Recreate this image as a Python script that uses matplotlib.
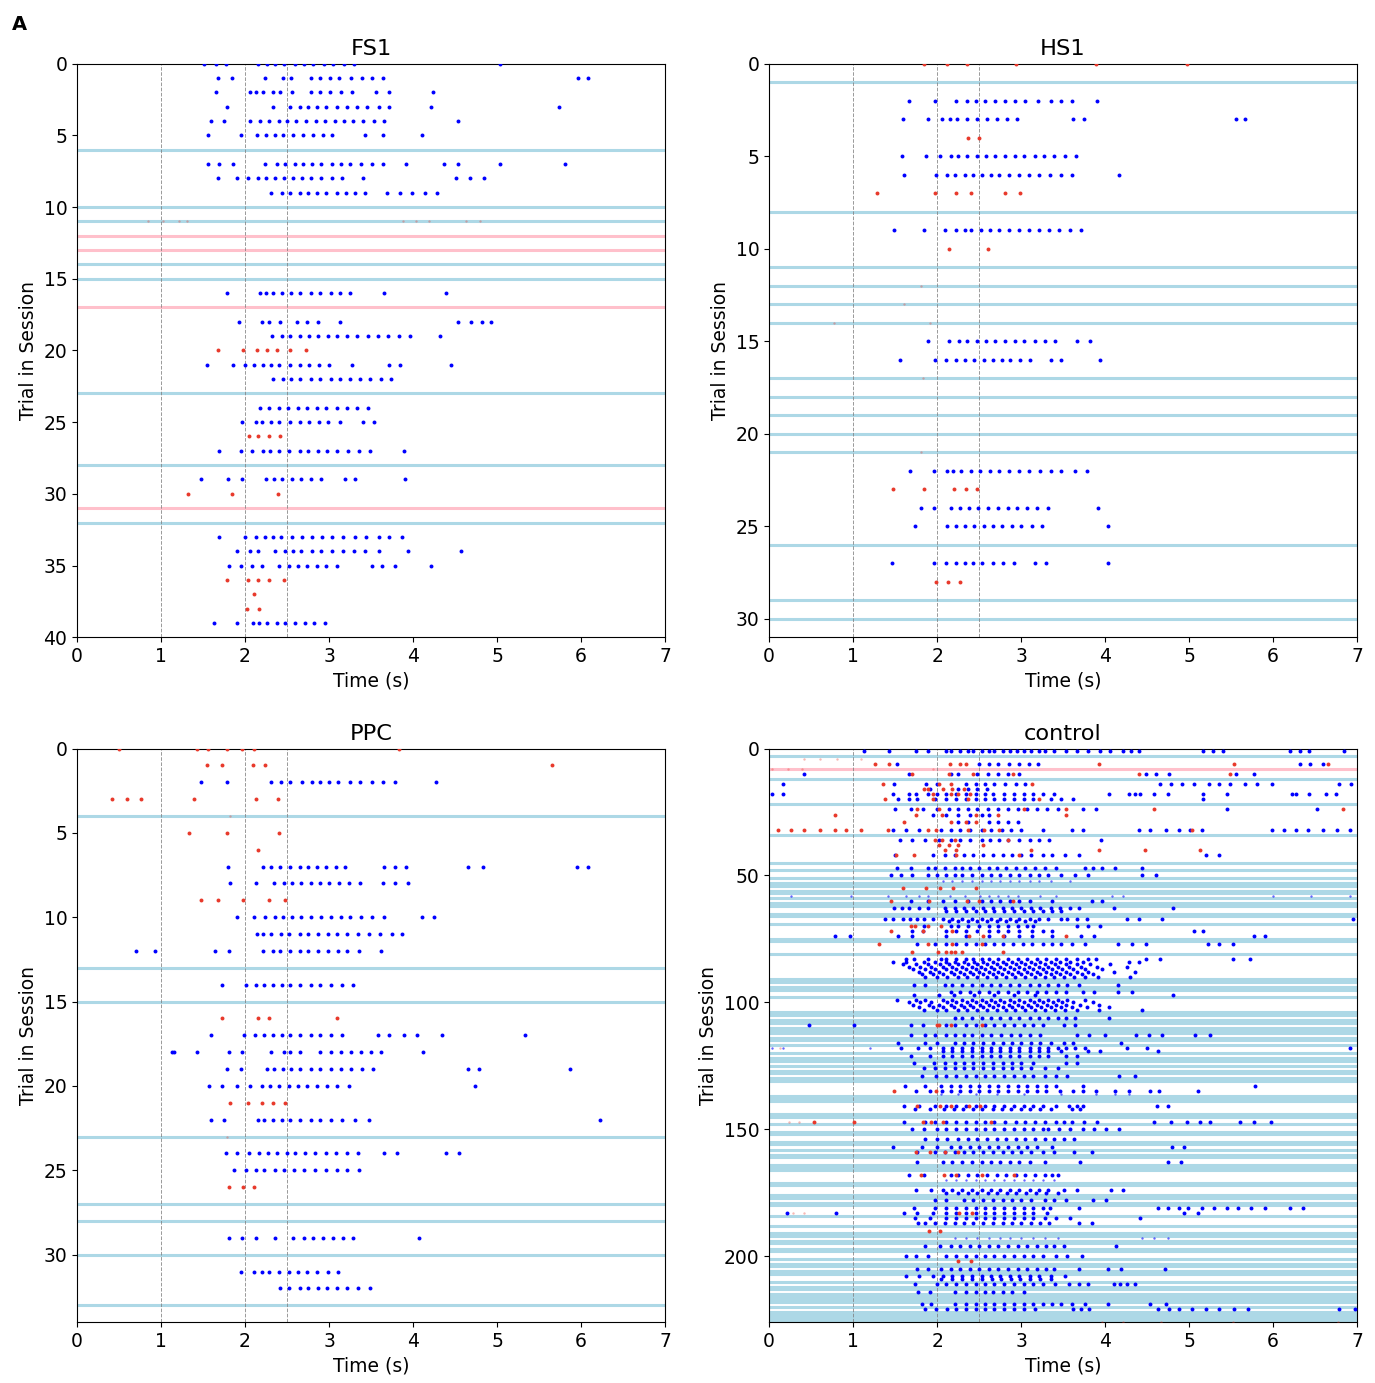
import matplotlib.pyplot as plt
import numpy as np

plt.rcParams['font.size'] = 13.5

# ---- FS1 ----
fs1_trials = 40
fs1_blue = {
    0: [1.51, 1.65, 1.77, 2.15, 2.26, 2.36, 2.46, 2.59, 2.70, 2.81, 2.94, 3.05, 3.18, 3.30, 5.03],
    1: [1.68, 1.85, 2.24, 2.45, 2.55, 2.78, 2.89, 3.01, 3.12, 3.26, 3.39, 3.51, 3.64, 5.97, 6.08],
    2: [1.66, 2.06, 2.13, 2.21, 2.33, 2.42, 2.56, 2.78, 2.89, 3.01, 3.14, 3.27, 3.56, 3.72, 4.24],
    3: [1.78, 2.33, 2.54, 2.65, 2.75, 2.86, 2.97, 3.09, 3.21, 3.33, 3.45, 3.59, 3.72, 4.22, 5.74],
    4: [1.60, 1.75, 2.06, 2.18, 2.29, 2.40, 2.50, 2.61, 2.73, 2.84, 2.95, 3.07, 3.18, 3.28, 3.41, 3.53, 3.66, 4.54],
    5: [1.56, 1.95, 2.14, 2.25, 2.36, 2.45, 2.57, 2.69, 2.81, 2.93, 3.04, 3.43, 3.64, 4.11],
    7: [1.56, 1.69, 1.86, 2.24, 2.38, 2.48, 2.59, 2.69, 2.80, 2.91, 3.03, 3.14, 3.25, 3.38, 3.51, 3.64, 3.92, 4.37, 4.53, 5.03, 5.81],
    8: [1.68, 1.90, 2.03, 2.15, 2.25, 2.36, 2.46, 2.57, 2.68, 2.79, 2.91, 3.03, 3.15, 3.41, 4.51, 4.68, 4.84],
    9: [2.31, 2.44, 2.54, 2.65, 2.75, 2.86, 2.97, 3.09, 3.20, 3.31, 3.43, 3.69, 3.84, 3.99, 4.14, 4.29],
    16: [1.78, 2.18, 2.25, 2.33, 2.44, 2.55, 2.66, 2.78, 2.89, 3.02, 3.13, 3.25, 3.66, 4.39],
    18: [1.93, 2.20, 2.29, 2.42, 2.62, 2.74, 2.87, 3.13, 4.54, 4.69, 4.82, 4.93],
    19: [2.32, 2.44, 2.54, 2.65, 2.76, 2.87, 2.99, 3.09, 3.21, 3.33, 3.46, 3.58, 3.70, 3.83, 3.97, 4.32],
    21: [1.55, 1.86, 2.00, 2.11, 2.21, 2.31, 2.41, 2.54, 2.65, 2.76, 2.88, 3.00, 3.27, 3.71, 3.84, 4.45],
    22: [2.33, 2.45, 2.55, 2.66, 2.78, 2.89, 3.02, 3.13, 3.25, 3.37, 3.49, 3.62, 3.74],
    24: [2.18, 2.29, 2.40, 2.51, 2.63, 2.74, 2.86, 2.97, 3.09, 3.21, 3.33, 3.46],
    25: [1.97, 2.13, 2.20, 2.31, 2.41, 2.53, 2.65, 2.76, 2.88, 2.99, 3.13, 3.40, 3.54],
    27: [1.69, 1.95, 2.08, 2.21, 2.30, 2.41, 2.52, 2.65, 2.75, 2.87, 2.98, 3.10, 3.23, 3.36, 3.49, 3.89],
    29: [1.48, 1.80, 1.96, 2.25, 2.34, 2.44, 2.56, 2.67, 2.79, 2.91, 3.19, 3.31, 3.91],
    33: [1.69, 2.00, 2.13, 2.24, 2.33, 2.43, 2.56, 2.68, 2.80, 2.92, 3.04, 3.17, 3.31, 3.44, 3.59, 3.72, 3.87],
    34: [1.90, 2.06, 2.15, 2.36, 2.48, 2.57, 2.67, 2.80, 2.91, 3.04, 3.17, 3.30, 3.43, 3.59, 3.94, 4.57],
    35: [1.81, 1.95, 2.08, 2.20, 2.40, 2.52, 2.63, 2.74, 2.86, 2.96, 3.09, 3.51, 3.63, 3.78, 4.22],
    39: [1.63, 1.91, 2.10, 2.17, 2.26, 2.38, 2.48, 2.60, 2.71, 2.82, 2.95],
}
fs1_red = {
    20: [1.68, 1.98, 2.14, 2.26, 2.38, 2.53, 2.73],
    26: [2.05, 2.16, 2.29, 2.42],
    30: [1.32, 1.85, 2.39],
    36: [1.78, 2.03, 2.15, 2.29, 2.46],
    37: [2.11],
    38: [2.02, 2.17],
}
fs1_faint = {11: [0.84, 1.02, 1.21, 1.31, 3.88, 4.04, 4.19, 4.63, 4.80]}
fs1_lines = [6, 10, 11, 14, 15, 23, 28, 32]
fs1_pink = [12, 13, 17, 31]

# ---- HS1 ----
hs1_trials = 31
hs1_blue = {
    2: [1.66, 1.97, 2.22, 2.36, 2.46, 2.57, 2.69, 2.81, 2.93, 3.05, 3.20, 3.36, 3.47, 3.60, 3.90],
    3: [1.59, 1.89, 2.06, 2.15, 2.24, 2.36, 2.47, 2.59, 2.71, 2.83, 2.95, 3.62, 3.75, 5.56, 5.67],
    5: [1.58, 1.87, 2.04, 2.16, 2.25, 2.36, 2.47, 2.58, 2.69, 2.81, 2.93, 3.04, 3.16, 3.27, 3.39, 3.52, 3.65],
    6: [1.61, 1.99, 2.12, 2.21, 2.33, 2.43, 2.54, 2.64, 2.74, 2.86, 2.98, 3.09, 3.21, 3.34, 3.47, 3.61, 4.17],
    9: [1.49, 1.84, 2.09, 2.22, 2.33, 2.40, 2.52, 2.63, 2.74, 2.86, 2.97, 3.09, 3.21, 3.33, 3.45, 3.58, 3.71],
    15: [1.89, 2.14, 2.26, 2.36, 2.47, 2.58, 2.69, 2.81, 2.93, 3.04, 3.16, 3.28, 3.40, 3.67, 3.82],
    16: [1.56, 1.98, 2.11, 2.22, 2.33, 2.44, 2.56, 2.66, 2.77, 2.87, 2.99, 3.11, 3.35, 3.48, 3.94],
    22: [1.68, 1.96, 2.12, 2.19, 2.29, 2.40, 2.51, 2.63, 2.74, 2.86, 2.97, 3.09, 3.22, 3.36, 3.48, 3.64, 3.78],
    24: [1.81, 1.96, 2.17, 2.27, 2.38, 2.49, 2.61, 2.72, 2.84, 2.95, 3.07, 3.19, 3.32, 3.91],
    25: [1.74, 2.12, 2.22, 2.33, 2.44, 2.56, 2.66, 2.77, 2.89, 3.00, 3.13, 3.25, 4.04],
    27: [1.46, 1.96, 2.11, 2.23, 2.33, 2.43, 2.54, 2.66, 2.78, 2.91, 3.17, 3.30, 4.04],
}
hs1_red = {
    0: [1.84, 2.12, 2.35, 2.94, 3.89, 4.97],
    4: [2.37, 2.50],
    7: [1.29, 1.98, 2.22, 2.40, 2.81, 2.99],
    10: [2.14, 2.61],
    23: [1.47, 1.84, 2.20, 2.34, 2.47],
    28: [1.99, 2.13, 2.27],
}
hs1_faint = {12: [1.81], 13: [1.60], 14: [0.77, 1.92], 17: [1.83], 21: [1.81]}
hs1_lines = [1, 8, 11, 12, 13, 14, 17, 18, 19, 20, 21, 26, 29, 30]
hs1_pink = []

# ---- PPC ----
ppc_trials = 34
ppc_blue = {
    2: [1.48, 1.78, 2.31, 2.43, 2.54, 2.68, 2.80, 2.89, 3.00, 3.11, 3.25, 3.37, 3.51, 3.64, 3.79, 4.27],
    7: [1.80, 2.21, 2.31, 2.42, 2.53, 2.65, 2.75, 2.86, 2.97, 3.08, 3.19, 3.65, 3.79, 3.92, 4.66, 4.83, 5.95, 6.08],
    8: [1.82, 2.13, 2.34, 2.46, 2.56, 2.67, 2.78, 2.89, 3.00, 3.12, 3.24, 3.37, 3.64, 3.79, 3.94],
    10: [1.90, 2.11, 2.24, 2.36, 2.45, 2.56, 2.67, 2.79, 2.90, 3.02, 3.14, 3.25, 3.38, 3.51, 3.65, 4.11, 4.25],
    11: [2.14, 2.22, 2.31, 2.43, 2.52, 2.65, 2.75, 2.87, 2.99, 3.09, 3.22, 3.35, 3.48, 3.61, 3.75, 3.87],
    12: [0.70, 0.93, 1.64, 1.81, 2.22, 2.33, 2.42, 2.53, 2.65, 2.75, 2.87, 2.99, 3.11, 3.22, 3.36, 3.62],
    14: [1.73, 2.01, 2.13, 2.23, 2.33, 2.44, 2.54, 2.66, 2.78, 2.89, 3.02, 3.15, 3.29],
    17: [1.60, 1.99, 2.12, 2.23, 2.33, 2.44, 2.54, 2.66, 2.78, 2.89, 3.02, 3.16, 3.58, 3.72, 3.89, 4.05, 4.34, 5.33],
    18: [1.13, 1.16, 1.43, 1.81, 1.96, 2.31, 2.46, 2.54, 2.66, 2.89, 3.02, 3.14, 3.26, 3.38, 3.50, 3.62, 4.12],
    19: [1.78, 1.95, 2.26, 2.35, 2.45, 2.55, 2.66, 2.78, 2.89, 3.02, 3.14, 3.26, 3.39, 3.52, 4.66, 4.79, 5.87],
    20: [1.57, 1.73, 1.91, 2.06, 2.20, 2.30, 2.41, 2.52, 2.63, 2.74, 2.86, 2.98, 3.09, 3.24, 4.74],
    22: [1.60, 1.75, 2.15, 2.23, 2.33, 2.44, 2.54, 2.66, 2.78, 2.89, 3.02, 3.16, 3.31, 3.48, 6.23],
    24: [1.77, 1.91, 2.05, 2.17, 2.27, 2.38, 2.50, 2.60, 2.71, 2.83, 2.96, 3.08, 3.21, 3.34, 3.65, 3.81, 4.39, 4.55],
    25: [1.87, 2.01, 2.13, 2.23, 2.36, 2.46, 2.58, 2.70, 2.83, 2.96, 3.09, 3.22, 3.36],
    29: [1.81, 1.96, 2.13, 2.36, 2.57, 2.70, 2.81, 2.93, 3.05, 3.17, 3.29, 4.07],
    31: [1.95, 2.11, 2.20, 2.29, 2.40, 2.52, 2.63, 2.74, 2.86, 2.99, 3.11],
    32: [2.42, 2.52, 2.65, 2.75, 2.87, 2.98, 3.10, 3.22, 3.35, 3.49],
}
ppc_red = {
    0: [0.50, 1.43, 1.56, 1.78, 1.96, 2.11, 3.83],
    1: [1.55, 1.73, 2.09, 2.24, 5.65],
    3: [0.42, 0.59, 0.76, 1.39, 2.13, 2.39],
    5: [1.33, 1.79, 2.41],
    6: [2.16],
    9: [1.48, 1.68, 1.98, 2.28, 2.48],
    16: [1.73, 2.16, 2.29, 3.09],
    21: [1.82, 2.04, 2.20, 2.33, 2.48],
    26: [1.81, 1.98, 2.11],
}
ppc_faint = {4: [1.82], 23: [1.79]}
ppc_lines = [4, 13, 15, 23, 27, 28, 30, 33]
ppc_pink = []

# ---- control (lick times as space separated strings, seconds) ----
ctrl_trials = 226
ctrl_blue_txt = {
    1: "1.13 1.43 1.75 1.89 2.11 2.16 2.27 2.37 2.43 2.53 2.62 2.68 2.78 2.87 2.95 3.03 3.12 3.21 3.29 3.39 3.53 3.67 3.80 3.94 4.06 4.21 4.31 4.40 5.17 5.29 5.40 6.20 6.32 6.43 6.84",
    6: "1.52 2.50 2.62 2.73 2.85 2.97 3.09 3.20 6.32 6.44 6.59",
    10: "0.42 1.67 2.16 2.25 2.48 2.61 2.72 2.84 2.97 4.49 4.60 4.76 5.56 5.77",
    14: "0.16 1.49 1.87 2.00 2.34 2.46 2.57 2.68 2.81 2.94 3.05 4.65 4.79 4.92 5.06 5.24 5.36 5.49 5.67 5.81 5.99 6.79 6.93",
    16: "1.91 2.25 2.37 2.48 2.59",
    18: "0.04 0.16 1.47 1.66 1.75 1.89 2.00 2.11 2.23 2.34 2.46 2.57 2.67 2.80 2.91 3.03 3.14 3.26 3.39 4.05 4.28 4.35 4.42 4.58 4.75 5.16 5.45 6.22 6.27 6.43 6.63 6.75",
    20: "1.54 1.66 1.76 1.98 2.11 2.23 2.34 2.46 2.57 2.68 2.80 2.91 3.03 3.14 3.35 3.48 3.62 5.16",
    24: "1.50 1.69 1.83 2.00 2.14 2.25 2.37 2.48 2.61 2.72 2.84 2.96 3.07 3.19 3.31 3.44 3.74 3.89 5.45 6.52",
    26: "1.95 2.11 2.25 2.39 2.53 2.62",
    29: "2.25 2.37 2.62 2.73 2.84 2.96",
    32: "1.47 1.63 1.79 2.05 2.16 2.27 2.39 2.53 2.64 2.77 2.88 3.00 3.26 3.60 3.74 4.40 4.54 4.72 4.88 5.01 5.15 5.99 6.13 6.27 6.42 6.59 6.76 6.91",
    36: "1.56 1.70 1.85 2.02 2.16 2.27 2.39 2.53 2.63 2.74 2.84 2.97 3.10 3.21 3.33 3.95",
    42: "1.50 1.95 2.09 2.21 2.32 2.43 2.55 2.66 2.78 2.89 3.00 3.12 3.26 3.37 3.52 3.69 5.20 5.36",
    47: "1.52 1.69 1.89 1.98 2.09 2.21 2.30 2.39 2.50 2.62 2.71 2.82 2.94 3.05 3.16 3.28 3.42 3.76 3.85 3.96 4.12 4.44",
    50: "1.45 1.57 1.70 1.89 2.00 2.11 2.21 2.30 2.41 2.53 2.64 2.75 2.87 2.98 3.10 3.21 3.32 3.48 3.64 3.80 4.44 4.60",
    60: "1.69 1.89 2.07 2.21 2.37 2.53 2.64 2.75 2.87 2.98 3.11 3.37 3.84 3.96",
    63: "1.49 1.58 1.66 1.79 1.89 2.09 2.21 2.32 2.43 2.55 2.66 2.78 2.89 3.00 3.12 3.23 3.35 3.46 3.58 3.69 4.10 4.81",
    64: "2.11 2.23 2.34 2.46 2.57 2.68 2.80 2.91 3.03 3.14 3.26 3.37 3.48",
    67: "1.38 1.47 1.59 1.68 1.76 1.84 1.95 2.07 2.18 2.30 2.41 2.53 2.64 2.75 2.87 2.98 3.10 3.21 3.32 3.48 3.55 3.66 3.78 4.26 4.40 4.68 6.95",
    68: "2.14 2.25 2.37 2.48 2.59 2.71 2.82 2.94 3.05 3.16",
    70: "1.84 2.16 2.25 2.37 2.50 2.62 2.73 2.84 2.96 3.07 3.14 3.67 3.80 3.94",
    72: "1.70 1.83 2.11 2.23 2.34 2.48 2.62 2.73 2.84 2.98 3.13 3.26 3.37 5.06 5.17",
    74: "0.78 0.96 1.54 1.70 2.11 2.34 2.62 2.80 2.98 3.13 3.37 3.71 3.87 5.77 5.90",
    77: "1.76 1.98 2.11 2.23 2.34 2.46 2.57 2.68 2.79 2.90 3.02 3.13 3.26 3.37 3.48 3.61 3.76 4.15 4.32 4.49 5.22 5.36 5.52",
    83: "1.63 1.73 1.89 2.05 2.11 2.23 2.34 2.43 2.53 2.62 2.73 2.84 2.96 3.07 3.19 3.30 3.42 3.53 3.67 3.80 3.89 4.49 4.65 5.52 5.72",
    84: "1.47 1.63 1.84 1.98 2.10 2.21 2.32 2.44 2.55 2.66 2.78 2.89 3.00 3.12 3.23 3.35 3.46 3.58 3.74 4.28 4.40",
    85: "1.59 1.75 1.89 2.03 2.14 2.25 2.37 2.48 2.59 2.71 2.82 2.94 3.05 3.17 3.28 3.40 3.53 3.66 3.82 4.06",
    86: "1.66 1.80 1.93 2.07 2.18 2.30 2.41 2.52 2.64 2.75 2.87 2.98 3.09 3.21 3.32 3.44 3.57 3.71 3.90 4.26",
    87: "1.71 1.86 1.98 2.11 2.23 2.34 2.46 2.57 2.68 2.80 2.91 3.03 3.14 3.26 3.37 3.49 3.62 3.76 3.96",
    88: "1.78 1.91 2.02 2.16 2.27 2.39 2.50 2.62 2.73 2.84 2.96 3.07 3.19 3.30 3.42 3.53 3.67 3.80 4.10 4.35",
    89: "1.82 1.95 2.07 2.20 2.32 2.43 2.55 2.66 2.77 2.89 3.00 3.12 3.23 3.35 3.46 3.58 3.72 3.85",
    90: "1.86 2.00 2.12 2.25 2.36 2.48 2.59 2.70 2.82 2.93 3.05 3.16 3.28 3.39 3.51 3.63 3.76 3.92 4.30",
    93: "1.73 1.86 2.09 2.18 2.30 2.41 2.53 2.64 2.75 2.87 2.98 3.10 3.21 3.32 3.44 3.55 3.69 4.15",
    96: "2.16 2.27 2.39 2.50 2.62 2.73 2.84 2.96 3.07 3.19 3.30 3.42 3.53 3.74 3.87 4.15 4.32",
    97: "1.73 2.02 2.20 2.44 2.68 2.92 3.16 4.81",
    99: "1.52 1.75 1.86 2.07 2.18 2.30 2.41 2.53 2.64 2.75 2.87 2.98 3.10 3.21 3.32 3.44 3.55 3.76",
    100: "1.66 1.80 1.93 2.12 2.23 2.35 2.46 2.58 2.69 2.80 2.92 3.03 3.15 3.26 3.38 3.49 3.62 3.85",
    101: "1.71 1.90 2.02 2.16 2.28 2.39 2.51 2.62 2.73 2.85 2.96 3.08 3.19 3.31 3.42 3.54 3.70 3.93",
    102: "1.79 1.95 2.07 2.20 2.32 2.43 2.55 2.66 2.78 2.89 3.01 3.12 3.24 3.35 3.47 3.60 3.78 4.05",
    103: "1.84 2.00 2.11 2.25 2.36 2.48 2.59 2.71 2.82 2.93 3.05 3.16 3.28 3.40 3.52 3.66 3.93 4.44",
    106: "2.21 2.30 2.41 2.53 2.64 2.75 2.87 2.98 3.10 3.21 3.32 3.44 3.53 3.64 4.05",
    109: "0.47 1.01 1.69 1.83 2.11 2.21 2.34 2.46 2.57 2.68 2.80 2.91 3.03 3.14 3.26 3.51 3.64",
    113: "1.69 1.85 1.98 2.11 2.21 2.32 2.42 2.53 2.64 2.76 2.88 2.99 3.10 3.23 3.67 3.81 4.00 4.37 4.52 4.68 5.07 5.25",
    116: "1.54 1.85 2.00 2.21 2.32 2.43 2.55 2.66 2.78 2.89 3.00 3.12 3.23 3.35 3.51 3.62 4.19",
    118: "1.57 1.77 1.91 2.07 2.18 2.30 2.41 2.53 2.64 2.75 2.87 2.98 3.10 3.21 3.32 3.44 3.53 3.64 3.76 4.26 4.50 6.91",
    119: "2.07 2.18 2.30 2.41 2.53 2.64 2.75 2.87 2.98 3.10 3.21 3.32 3.48 3.80 3.94 4.63",
    121: "1.69 1.92 2.07 2.18 2.30 2.41 2.53 2.64 2.75 2.87 2.98 3.10 3.21 3.32 3.53 3.66",
    124: "1.73 1.96 2.09 2.21 2.32 2.43 2.55 2.66 2.78 2.89 3.00 3.14 3.53 3.66",
    126: "1.84 1.98 2.09 2.21 2.32 2.43 2.55 2.66 2.78 2.89 3.00 3.12 3.28 3.44",
    129: "1.82 1.99 2.11 2.23 2.34 2.46 2.57 2.68 2.80 2.91 3.03 3.14 3.28 3.42 3.55 4.17 4.35",
    133: "1.62 1.86 2.05 2.16 2.27 2.39 2.50 2.62 2.73 2.84 2.96 3.07 3.19 3.30 3.42 3.74 5.79",
    135: "1.75 1.91 2.06 2.16 2.27 2.39 2.50 2.62 2.73 2.84 2.96 3.07 3.19 3.30 3.46 3.62 3.74 3.89 4.12 4.28 4.53 4.64 5.11",
    141: "1.61 1.79 1.97 2.11 2.23 2.34 2.46 2.57 2.68 2.80 2.91 3.03 3.14 3.26 3.42 3.57 3.66 3.74 4.62 4.75",
    142: "1.74 1.92 2.08 2.20 2.31 2.43 2.54 2.66 2.77 2.88 3.00 3.11 3.23 3.35 3.60 3.70",
    147: "1.60 1.85 1.98 2.11 2.23 2.34 2.46 2.57 2.68 2.81 2.94 3.05 3.16 3.29 3.42 3.51 3.60 3.75 3.90 4.58 4.79 4.97 5.13 5.25 5.60 5.77 5.97",
    150: "1.70 1.84 2.00 2.11 2.23 2.34 2.46 2.57 2.68 2.80 2.91 3.03 3.14 3.26 3.32 3.45 3.58 3.74 3.87 4.01 4.17",
    154: "1.85 2.00 2.12 2.25 2.37 2.48 2.59 2.71 2.82 2.94 3.05 3.16 3.28 3.39 3.51 3.63",
    157: "1.47 1.82 2.00 2.16 2.27 2.39 2.50 2.62 2.73 2.84 2.96 3.07 3.19 3.37 4.80 4.94",
    159: "1.76 1.98 2.09 2.21 2.32 2.43 2.55 2.66 2.78 2.89 3.00 3.12 3.26 3.39 3.63 3.84",
    163: "1.76 2.07 2.18 2.30 2.41 2.53 2.64 2.75 2.87 2.98 3.10 3.28 3.70 4.75 4.90",
    168: "1.67 1.84 2.16 2.25 2.37 2.48 2.59 2.71 2.82 2.94 3.05 3.16 3.28 3.37 3.44",
    174: "1.75 1.93 2.07 2.18 2.30 2.41 2.53 2.64 2.75 2.87 2.98 3.10 3.21 3.32 3.51 3.67 4.07 4.21",
    175: "2.11 2.25 2.37 2.48 2.60 2.71 2.83 2.94 3.06 3.18 3.30 3.44",
    178: "1.98 2.11 2.32 2.43 2.55 2.66 2.78 2.89 3.00 3.12 3.28 3.39 3.53 3.85 4.01",
    181: "1.73 1.98 2.11 2.23 2.34 2.46 2.57 2.68 2.80 2.91 3.03 3.14 3.26 3.34 3.69 4.63 4.75 4.88 4.99 5.15 5.30 5.45 5.58 5.74 5.90 6.20 6.36",
    183: "0.21 0.80 1.60 1.76 1.95 2.11 2.23 2.34 2.46 2.57 2.68 2.80 2.91 3.03 3.14 3.31 4.94 5.10",
    185: "1.74 1.92 2.11 2.23 2.34 2.46 2.57 2.68 2.80 2.91 3.03 3.14 3.28 3.42 3.58 4.42",
    187: "1.77 1.86 1.98 2.09 2.21 2.32 2.43 2.55 2.66 2.78 2.89 3.00 3.12 3.23 3.33 3.69 3.84",
    196: "1.86 2.03 2.16 2.27 2.39 2.50 2.62 2.73 2.84 2.96 3.07 3.19 3.30 3.39 3.51 4.13",
    200: "1.63 1.75 1.89 2.11 2.23 2.34 2.46 2.57 2.68 2.80 2.91 3.03 3.14 3.26 3.42 3.55 3.72",
    205: "1.76 1.89 2.05 2.16 2.27 2.39 2.50 2.62 2.73 2.84 2.96 3.07 3.19 3.30 3.39 3.69 4.04 4.19 4.71",
    208: "1.63 1.79 1.95 2.07 2.18 2.30 2.41 2.53 2.64 2.75 2.87 2.98 3.10 3.21 3.35 3.52",
    209: "2.05 2.18 2.30 2.42 2.53 2.65 2.76 2.88 2.99 3.11 3.22 3.36",
    211: "1.74 2.00 2.11 2.23 2.34 2.46 2.57 2.68 2.80 2.91 3.03 3.14 3.26 3.40 3.57 3.69 3.80 4.10 4.18 4.26 4.35",
    214: "1.77 1.91 2.21 2.34 2.46 2.57 2.67 2.78 2.89 3.03",
    219: "1.82 1.93 2.21 2.34 2.46 2.57 2.68 2.80 2.91 3.03 3.14 3.26 3.37 3.48 3.61 3.76 4.03 4.53 4.73",
    221: "1.85 1.99 2.12 2.23 2.34 2.46 2.57 2.68 2.80 2.91 3.03 3.16 3.62 3.71 3.81 4.63 4.76 4.88 5.04 5.20 5.36 5.53 5.70 6.79 6.98",
}
ctrl_red_txt = {
    6: "1.26 1.43 2.15 2.27 2.34 3.93 5.53 6.65",
    10: "1.70 2.14 2.43 2.90 4.40 5.49",
    14: "1.36 2.02 2.16 3.13",
    16: "1.84 1.89 2.07 2.18 2.32",
    18: "1.95 2.16 2.25 2.39",
    20: "1.38 1.95 2.37 3.21",
    24: "1.76 2.02 3.03 3.53 4.58 6.83",
    26: "0.78 1.75 2.06 2.46 2.72 3.53",
    29: "1.61 2.16 2.34 2.46",
    32: "0.11 0.26 0.41 0.61 0.78 0.91 1.09 1.41 1.89 1.99 2.37 2.56 2.74 5.04",
    36: "1.97 2.06 2.21 2.84",
    38: "2.02 2.14 2.25 2.55",
    40: "2.09 2.23 3.12 3.93 4.48 5.13",
    42: "1.51 1.73 2.23 2.98",
    55: "1.59 1.87 2.04 2.19 2.46",
    60: "1.45 1.90 2.36 2.50 2.90",
    70: "1.69 1.74 1.89 2.05",
    72: "1.45 1.83 2.18",
    74: "2.38 2.55 2.79 3.53",
    77: "1.31 1.89 2.18 2.53",
    80: "1.70 2.01 2.11 2.16 2.21 2.30 2.79",
    109: "2.00 2.02 2.16 2.53",
    135: "1.49 1.99",
    141: "1.76 2.03 2.16 2.38 2.51",
    147: "0.54 1.01 1.83 1.93 2.07 2.64",
    159: "1.75 1.92 2.09 2.25",
    168: "1.81 2.08 2.23 2.54 2.92",
    183: "2.26 2.42",
    190: "1.90 2.04",
    202: "2.25 2.40",
}
ctrl_small_blue_txt = {
    52: "2.07 2.18 2.30 2.41 2.53 2.64 2.75 2.87 2.98 3.10 3.21 3.35 3.58",
    58: "0.26 0.97 1.41 1.63 1.79 1.89 2.15 2.33 2.51 2.62 2.73 2.84 2.96 3.23 3.42 4.08 4.21 6.00 6.45 6.91",
    118: "0.04 0.17 1.20",
    136: "2.05 2.25 2.46 2.71 3.03 3.48 3.89 4.12 4.28",
    170: "2.11 2.23 2.34 2.46 2.57 2.68 2.80 2.91 3.03 3.14 3.26 3.39",
    193: "2.21 2.34 2.48 2.62 2.75 2.87 3.00 3.14 3.28 3.44 4.44 4.58 4.75",
}
ctrl_faint_txt = {
    4: "0.42 0.61 0.81 1.09",
    8: "0.04 0.22 0.39 1.95",
    118: "0.13",
    147: "0.24 0.36",
    183: "0.28 0.42",
    226: "3.96 4.21 4.66 5.52 6.77",
}
ctrl_lines = [3, 12, 22, 34, 45, 48, 51, 53, 54, 56, 57, 59, 61, 62, 65, 66, 69, 75, 76,
              81, 91, 92, 94, 95, 98, 104, 105, 107, 108, 110, 111, 112, 114, 115, 117,
              120, 122, 123, 125, 127, 128, 130, 131, 137, 138, 139, 144, 145, 148, 151,
              152, 155, 156, 158, 160, 161, 164, 165, 166, 171, 172, 176, 177, 179, 180,
              184, 188, 191, 192, 194, 195, 197, 198, 201, 203, 204, 206, 207, 210, 212,
              213, 215, 216, 217, 218, 220, 222, 223, 224, 225]
ctrl_pink = [8]

RED = '#e8392b'


def parse(d):
    return {k: [float(v) for v in s.split()] for k, s in d.items()}


def raster(ax, title, n_trials, blue, red, lines, pink, faint=None, small_blue=None):
    for t in lines:
        ax.axhline(t, color='lightblue', lw=2.2, zorder=1)
    for t in pink:
        ax.axhline(t, color='pink', lw=2.2, zorder=1)
    for x in (1, 2, 2.5):
        ax.axvline(x, color='gray', ls='--', lw=0.7, alpha=0.8, zorder=2)

    groups = [(blue, 'blue', 8, 1.0), (red, RED, 8, 1.0),
              (small_blue or {}, 'blue', 3, 0.6), (faint or {}, RED, 3, 0.35)]
    for licks, color, size, alpha in groups:
        for trial, times in licks.items():
            ax.scatter(times, np.full(len(times), trial), s=size, color=color,
                       alpha=alpha, linewidths=0, zorder=3)

    ax.set_xlim(0, 7)
    ax.set_ylim(n_trials, 0)
    ax.set_title(title)
    ax.set_xlabel('Time (s)')
    ax.set_ylabel('Trial in Session')


fig, axes = plt.subplots(2, 2, figsize=(13.75, 13.83), dpi=100)
fig.subplots_adjust(left=0.056, right=0.987, bottom=0.044, top=0.954,
                    wspace=0.177, hspace=0.194)

raster(axes[0, 0], 'FS1', fs1_trials, fs1_blue, fs1_red, fs1_lines, fs1_pink, fs1_faint)
raster(axes[0, 1], 'HS1', hs1_trials, hs1_blue, hs1_red, hs1_lines, hs1_pink, hs1_faint)
raster(axes[1, 0], 'PPC', ppc_trials, ppc_blue, ppc_red, ppc_lines, ppc_pink, ppc_faint)
raster(axes[1, 1], 'control', ctrl_trials, parse(ctrl_blue_txt), parse(ctrl_red_txt),
       ctrl_lines, ctrl_pink, parse(ctrl_faint_txt), parse(ctrl_small_blue_txt))

fig.text(0.009, 0.982, 'A', fontsize=14, fontweight='bold', va='center')

fig.savefig('out.png', dpi=100)
